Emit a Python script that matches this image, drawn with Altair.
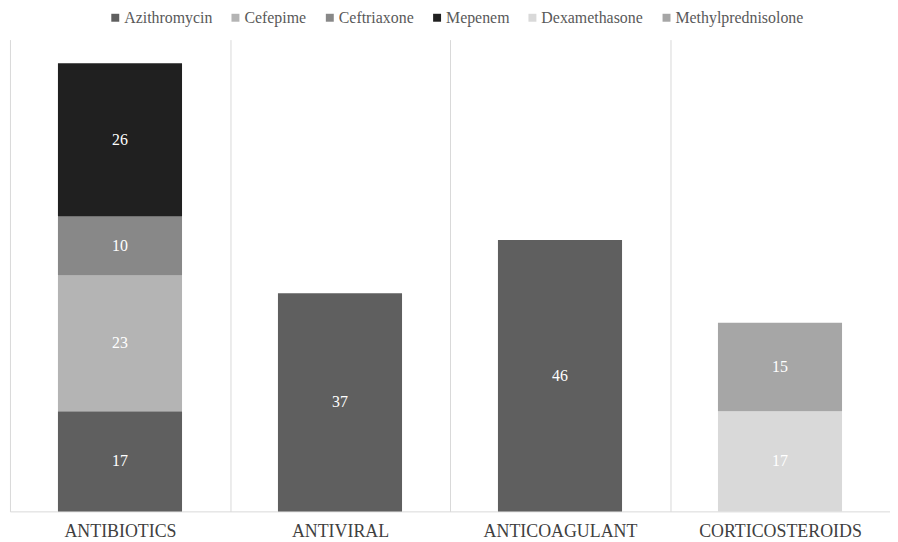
import altair as alt
import pandas as pd

categories = ["ANTIBIOTICS", "ANTIVIRAL", "ANTICOAGULANT", "CORTICOSTEROIDS"]
drugs = ["Azithromycin", "Cefepime", "Ceftriaxone", "Mepenem", "Dexamethasone", "Methylprednisolone"]
colors = ["#5f5f5f", "#b4b4b4", "#888888", "#202020", "#d9d9d9", "#a6a6a6"]

row_category = ["ANTIBIOTICS", "ANTIBIOTICS", "ANTIBIOTICS", "ANTIBIOTICS",
                "ANTIVIRAL", "ANTICOAGULANT", "CORTICOSTEROIDS", "CORTICOSTEROIDS"]
row_drug = ["Azithromycin", "Cefepime", "Ceftriaxone", "Mepenem",
            "Azithromycin", "Azithromycin", "Dexamethasone", "Methylprednisolone"]
row_value = [17, 23, 10, 26, 37, 46, 17, 15]

df = pd.DataFrame({
    "category": row_category,
    "drug": row_drug,
    "value": row_value,
    "order": [drugs.index(d) for d in row_drug],
})

FONT = "Liberation Serif"

x_enc = alt.X(
    "category:N",
    sort=categories,
    title=None,
    scale=alt.Scale(paddingInner=0, paddingOuter=0),
    axis=alt.Axis(
        labelAngle=0, ticks=False, grid=True, gridColor="#d9d9d9", tickBand="extent",
        domainColor="#d9d9d9", labelFont=FONT, labelFontSize=18, labelColor="#404040",
        labelPadding=11,
    ),
)

base = alt.Chart(df).transform_stack(
    stack="value", groupby=["category"], sort=[alt.SortField("order")], as_=["y0", "y1"]
).transform_calculate(mid="(datum.y0 + datum.y1) / 2")

bars = base.mark_bar(width=alt.RelativeBandSize(0.564)).encode(
    x=x_enc,
    y=alt.Y("y0:Q", scale=alt.Scale(domain=[0, 80]), axis=None),
    y2="y1:Q",
    color=alt.Color(
        "drug:N",
        scale=alt.Scale(domain=drugs, range=colors),
        legend=alt.Legend(
            title=None, orient="none", direction="horizontal", legendX=98, legendY=-30,
            symbolType="square", symbolSize=64, symbolStrokeWidth=0, labelFont=FONT,
            labelFontSize=16, labelColor="#595959", columnPadding=15, labelOffset=1,
        ),
    ),
)

labels = base.mark_text(color="white", font=FONT, fontSize=16).encode(
    x=alt.X("category:N", sort=categories),
    y=alt.Y("mid:Q"),
    text="value:Q",
)

chart = alt.layer(bars, labels).properties(
    width=886, height=475,
    padding={"left": 2, "top": 0, "right": 0, "bottom": 0},
).configure_view(stroke=None)

chart.save("out.html", embed_options={"renderer": "svg", "actions": False})
